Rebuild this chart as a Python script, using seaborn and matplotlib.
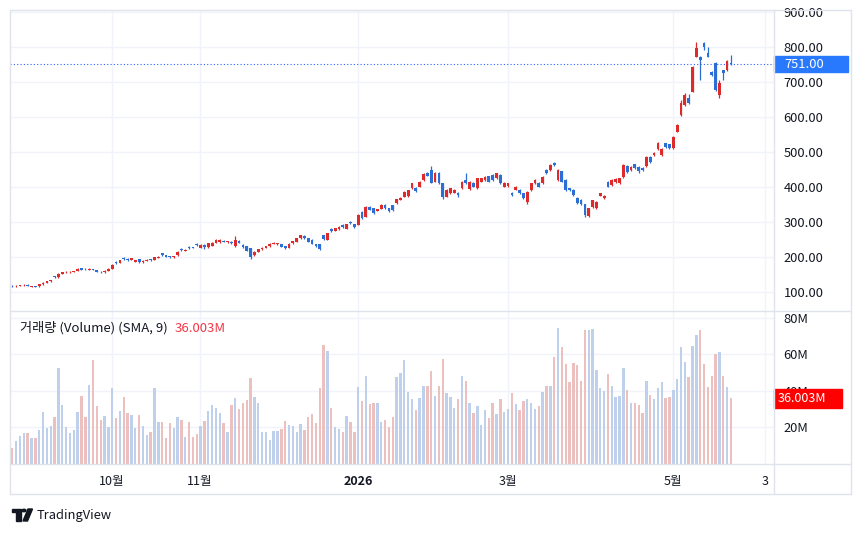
import numpy as np
import pandas as pd
import matplotlib
matplotlib.use("Agg")
from matplotlib import pyplot as plt
import seaborn as sns
from matplotlib.transforms import blended_transform_factory
from matplotlib.lines import Line2D
from matplotlib.patches import Rectangle, Polygon, Circle

# daily candles, late Aug 2025 -> May 2026
opens = [118, 116, 117, 119, 121, 114, 117, 116, 122, 127,
         130, 146, 142, 151, 156, 157, 157, 160, 168, 166,
         164, 166, 162, 158, 156, 161, 166, 186, 183, 197,
         194, 191, 186, 194, 185, 189, 193, 192, 198, 210,
         205, 202, 199, 205, 223, 218, 229, 228, 238, 227,
         234, 228, 231, 241, 243, 247, 242, 244, 230, 247,
         234, 231, 225, 206, 215, 222, 227, 230, 238, 236,
         237, 231, 227, 239, 244, 253, 261, 253, 249, 237,
         236, 262, 249, 280, 274, 279, 291, 280, 299, 294,
         291, 328, 314, 344, 339, 331, 338, 349, 340, 348,
         353, 364, 371, 373, 396, 397, 401, 420, 440, 449,
         415, 441, 410, 372, 382, 384, 383, 396, 421, 393,
         411, 396, 415, 420, 430, 434, 425, 435, 401, 402,
         383, 392, 391, 382, 358, 391, 411, 412, 410, 449,
         448, 469, 420, 445, 420, 396, 391, 368, 363, 350,
         318, 343, 340, 375, 368, 415, 406, 414, 411, 429,
         460, 449, 465, 458, 455, 460, 486, 491, 508, 491,
         525, 522, 510, 558, 606, 634, 653, 672, 772, 772,
         812, 784, 729, 753, 663, 733, 734, 755]
highs = [119, 119, 120, 122, 122, 117, 118, 123, 128, 131,
         135, 147, 153, 157, 159, 160, 161, 168, 169, 168,
         168, 167, 163, 159, 162, 168, 179, 188, 191, 199,
         196, 197, 192, 195, 191, 193, 194, 201, 202, 212,
         206, 203, 204, 216, 225, 222, 230, 229, 240, 238,
         236, 241, 242, 251, 250, 248, 246, 245, 260, 248,
         236, 232, 226, 216, 224, 229, 232, 240, 243, 241,
         238, 232, 239, 247, 254, 264, 263, 254, 250, 238,
         237, 264, 269, 282, 283, 288, 293, 295, 302, 295,
         322, 330, 345, 346, 340, 338, 350, 351, 341, 349,
         367, 371, 388, 392, 412, 399, 416, 439, 443, 460,
         443, 443, 412, 393, 398, 394, 385, 417, 440, 417,
         413, 427, 427, 431, 432, 436, 441, 437, 413, 412,
         385, 403, 393, 384, 389, 412, 422, 413, 431, 451,
         465, 472, 452, 447, 422, 398, 393, 370, 365, 352,
         341, 364, 361, 384, 377, 417, 422, 425, 427, 465,
         462, 459, 467, 460, 456, 488, 489, 500, 528, 510,
         527, 524, 546, 580, 648, 668, 665, 746, 815, 775,
         815, 800, 732, 756, 705, 735, 763, 777]
lows = [115, 115, 116, 118, 116, 113, 114, 115, 121, 126,
        129, 140, 141, 150, 154, 155, 156, 159, 163, 163,
        163, 162, 157, 155, 155, 160, 165, 180, 182, 192,
        189, 190, 185, 183, 184, 188, 189, 191, 197, 204,
        199, 197, 198, 204, 217, 217, 224, 225, 232, 226,
        224, 227, 230, 240, 241, 242, 240, 238, 228, 240,
        227, 217, 195, 204, 213, 220, 225, 229, 236, 234,
        228, 223, 226, 238, 243, 252, 251, 242, 236, 229,
        221, 248, 248, 271, 273, 278, 284, 279, 294, 284,
        290, 309, 313, 333, 323, 330, 337, 338, 328, 332,
        352, 362, 370, 372, 395, 386, 400, 418, 430, 410,
        413, 409, 365, 370, 381, 382, 372, 394, 409, 391,
        399, 395, 413, 418, 413, 417, 423, 409, 399, 400,
        375, 390, 380, 366, 350, 389, 409, 399, 408, 437,
        446, 461, 418, 413, 389, 388, 375, 350, 349, 313,
        315, 341, 338, 373, 366, 399, 404, 412, 409, 427,
        441, 447, 451, 440, 446, 458, 469, 489, 506, 489,
        512, 508, 508, 556, 604, 632, 636, 670, 770, 706,
        790, 770, 718, 675, 654, 705, 732, 749]
closes = [116, 118, 119, 121, 117, 116, 115, 122, 127, 130,
          134, 142, 151, 156, 158, 158, 159, 167, 164, 165,
          166, 163, 158, 156, 161, 167, 178, 183, 190, 194,
          191, 196, 190, 185, 189, 192, 190, 200, 201, 206,
          201, 199, 203, 215, 219, 221, 226, 226, 233, 234,
          228, 239, 241, 249, 248, 244, 245, 239, 249, 241,
          228, 218, 201, 215, 222, 227, 231, 238, 241, 239,
          229, 225, 238, 246, 253, 262, 253, 244, 237, 231,
          223, 250, 268, 273, 282, 287, 285, 294, 296, 285,
          320, 311, 344, 334, 325, 337, 349, 339, 330, 334,
          366, 369, 387, 391, 411, 388, 415, 437, 432, 412,
          441, 411, 372, 391, 396, 392, 377, 415, 411, 415,
          401, 425, 425, 429, 415, 419, 439, 411, 411, 410,
          377, 401, 382, 368, 387, 411, 420, 401, 429, 439,
          463, 463, 449, 415, 391, 391, 377, 353, 352, 320,
          339, 363, 358, 382, 375, 401, 420, 423, 425, 463,
          443, 457, 453, 447, 449, 486, 471, 498, 525, 508,
          514, 510, 544, 577, 639, 663, 639, 744, 796, 763,
          800, 772, 720, 677, 696, 727, 761, 751]
# volume in millions
volumes = [8.9, 12.6, 15.3, 17.2, 16.8, 14.0, 14.0, 18.6, 28.3, 19.9,
           20.8, 25.9, 52.4, 32.1, 20.1, 16.8, 18.6, 28.3, 37.4, 25.9,
           43.3, 57.0, 32.0, 24.1, 26.3, 20.1, 41.8, 25.0, 29.2, 36.5,
           27.8, 26.8, 19.9, 26.8, 21.0, 15.9, 17.7, 41.8, 23.2, 23.2,
           14.0, 22.3, 19.5, 25.9, 24.1, 15.0, 23.2, 15.0, 16.4, 21.0,
           23.6, 29.0, 32.3, 30.9, 27.8, 22.6, 17.4, 32.3, 36.0, 30.1,
           33.6, 35.1, 47.0, 36.5, 33.3, 17.4, 17.7, 13.2, 18.2, 18.2,
           19.2, 23.6, 21.4, 20.8, 17.4, 21.9, 18.6, 25.9, 27.2, 22.3,
           41.8, 65.2, 62.1, 30.9, 20.5, 19.0, 17.7, 26.3, 23.2, 17.7,
           42.4, 34.7, 48.4, 32.7, 33.6, 33.3, 23.2, 24.1, 20.5, 25.6,
           47.8, 49.7, 57.0, 39.6, 35.6, 29.6, 36.0, 42.7, 42.7, 51.1,
           37.4, 42.7, 57.7, 38.7, 36.9, 30.5, 35.4, 48.4, 45.6, 33.6,
           28.1, 32.0, 21.4, 29.6, 25.4, 33.3, 27.4, 35.4, 28.7, 30.0,
           38.7, 32.7, 29.6, 34.5, 35.6, 33.6, 30.1, 31.8, 39.6, 42.7,
           42.7, 58.4, 74.3, 63.9, 54.8, 44.8, 55.5, 54.2, 45.6, 73.4,
           73.4, 73.9, 51.5, 41.5, 40.2, 49.2, 42.7, 36.5, 37.3, 52.4,
           40.5, 33.6, 33.3, 32.3, 28.1, 45.6, 37.8, 35.6, 41.5, 44.8,
           36.0, 36.5, 40.5, 46.4, 63.9, 55.7, 47.5, 64.8, 70.7, 73.4,
           54.8, 42.4, 48.4, 60.1, 61.5, 48.4, 42.4, 36.003]

month_pos = [25.9, 48.8, 90, 129, 171.9, 195.9]
month_labels = ["10월", "11월", "2026", "3월", "5월", "3"]
price_ticks = [100, 200, 300, 400, 500, 600, 700, 800, 900]
vol_ticks = [20, 40, 60, 80]

UP = "#DD2B2B"
DOWN = "#2B6FD6"
VOL_UP = "#B8CEF3"
VOL_DOWN = "#F4B9B9"
GRID = "#F0F3FA"
BORDER = "#E0E3EB"
TXT = "#131722"

df = pd.DataFrame({"open": opens, "high": highs, "low": lows,
                   "close": closes, "volume": volumes})
df["idx"] = np.arange(len(df))
df["dir"] = np.where(df["close"] >= df["open"], "up", "down")

sns.set_theme(style="white")
plt.rcParams["font.family"] = ["Noto Sans CJK KR", "DejaVu Sans"]

W, H = 860, 534
fig = plt.figure(figsize=(W / 100, H / 100), dpi=100)


def fx(px):
    return px / W


def fy(py):
    return 1 - py / H


ax = fig.add_axes([fx(10), fy(311), fx(764), (311 - 10) / H])
axv = fig.add_axes([fx(10), fy(464), fx(764), (464 - 311) / H], sharex=ax)

# candles
colors = np.where(df["dir"] == "up", UP, DOWN)
ax.vlines(df["idx"], df["low"], df["high"], colors=colors, lw=0.9, zorder=3)
body_low = np.minimum(df["open"], df["close"])
body_h = np.abs(df["close"] - df["open"])
ax.bar(df["idx"], body_h, bottom=body_low, width=0.72, color=colors,
       linewidth=0, zorder=3)

# volume
sns.barplot(data=df, x="idx", y="volume", hue="dir",
            palette={"up": VOL_UP, "down": VOL_DOWN}, native_scale=True,
            dodge=False, errorbar=None, width=0.62, legend=False,
            linewidth=0, ax=axv)

for a in (ax, axv):
    for s in a.spines.values():
        s.set_visible(False)
    a.set_xlim(-0.6, 198.2)
    a.set_xticks(month_pos)
    a.grid(True, color=GRID, lw=1)
    a.set_axisbelow(True)
    a.yaxis.tick_right()
    a.tick_params(axis="y", length=0, pad=7, labelsize=9.3, labelcolor=TXT)
    a.set_xlabel("")
    a.set_ylabel("")

ax.set_ylim(45.7, 905.7)
ax.set_yticks(price_ticks)
ax.set_yticklabels([f"{v:.2f}" for v in price_ticks])
ax.tick_params(axis="x", length=0, labelbottom=False)

axv.set_ylim(0, 83.8)
axv.set_yticks(vol_ticks)
axv.set_yticklabels([f"{v}M" for v in vol_ticks])
axv.set_xticklabels(month_labels)
axv.tick_params(axis="x", length=0, pad=8, labelsize=9, labelcolor=TXT)
for lab in axv.get_xticklabels():
    if lab.get_text() == "2026":
        lab.set_fontweight("bold")

# last price line and label
last = closes[-1]
ax.axhline(last, color="#2962FF", ls=(0, (1, 2)), lw=0.8, zorder=2)
tr = blended_transform_factory(ax.transAxes, ax.transData)
span = 905.7 - 45.7
ax.add_patch(Rectangle((1.0, last - 8 / 301 * span), 74 / 764, 16 / 301 * span,
                       transform=tr, color="#2979FF", clip_on=False, zorder=6))
ax.text(1.0 + 10 / 764, last, f"{last:.2f}", transform=tr, va="center",
        ha="left", color="white", fontsize=9.3, clip_on=False, zorder=7)

# last volume label (covers the 40M tick as in the original)
lastv = volumes[-1]
trv = blended_transform_factory(axv.transAxes, axv.transData)
axv.add_patch(Rectangle((1.0, lastv - 9.5 / 153 * 83.8), 68 / 764, 19 / 153 * 83.8,
                        transform=trv, color="#FF0000", clip_on=False, zorder=6))
axv.text(1.0 + 4 / 764, lastv, f"{lastv:.3f}M", transform=trv, va="center",
         ha="left", color="white", fontsize=9, clip_on=False, zorder=7)

# volume legend
fig.text(fx(20), fy(328), "거래량 (Volume) (SMA, 9)", va="center", ha="left",
         fontsize=9.5, color=TXT)
fig.text(fx(175), fy(328), f"{lastv:.3f}M", va="center", ha="left",
         fontsize=9.5, color="#F23645")

# frame lines
segs = [((10, 10), (10, 494)), ((10, 851), (10, 10)), ((851, 851), (10, 494)),
        ((10, 851), (494, 494)), ((774, 774), (10, 494)),
        ((10, 851), (311, 311)), ((10, 851), (464, 464))]
for xs, ys in segs:
    fig.add_artist(Line2D([fx(xs[0]), fx(xs[1])], [fy(ys[0]), fy(ys[1])],
                          transform=fig.transFigure, color=BORDER, lw=1))

# TradingView mark
fig.add_artist(Rectangle((fx(12), fy(512)), fx(9), 3.5 / H, color=TXT,
                         transform=fig.transFigure))
fig.add_artist(Rectangle((fx(16), fy(521)), fx(4.5), 10 / H, color=TXT,
                         transform=fig.transFigure))
fig.add_artist(Circle((fx(24), fy(510.5)), 2 / W, color=TXT,
                      transform=fig.transFigure))
fig.add_artist(Polygon([(fx(23), fy(521)), (fx(28), fy(509)), (fx(32.5), fy(509)),
                        (fx(27.5), fy(521))], color=TXT, transform=fig.transFigure))
fig.text(fx(37), fy(515.5), "TradingView", va="center", ha="left",
         fontsize=9.3, fontweight="medium", color=TXT)

fig.savefig("out.png", dpi=100, facecolor="white")
